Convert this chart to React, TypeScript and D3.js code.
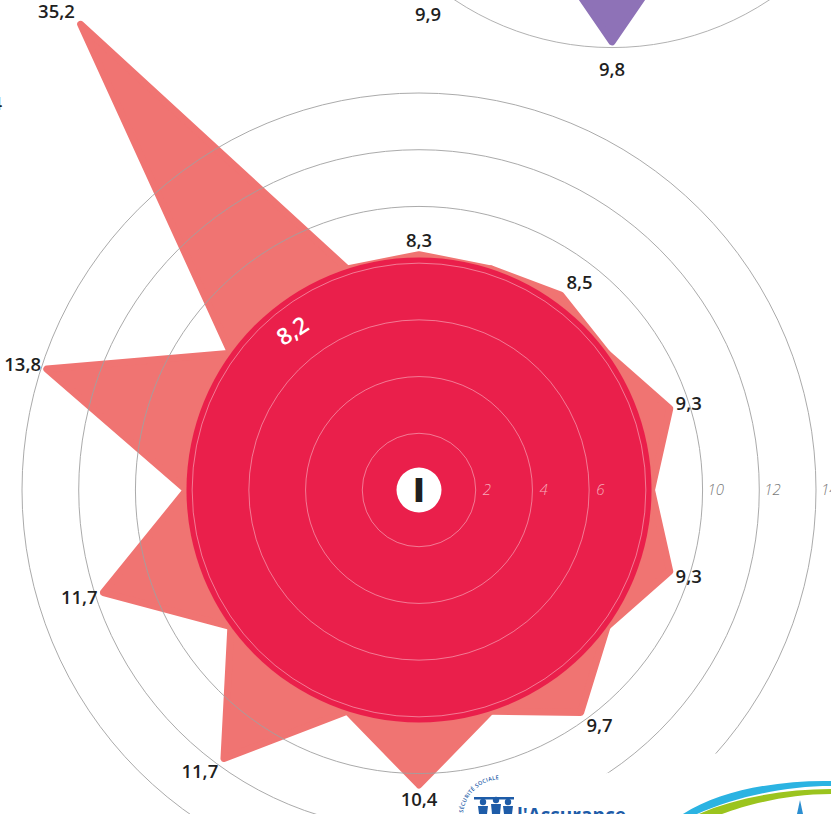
import React from "react";
import * as d3 from "d3";

// ---- data ----
const mainValues = [8.3, 8.5, 9.3, 9.3, 9.7, 10.4, 11.7, 11.7, 13.8, 35.2];
const mainAverage = 8.2;
const mainRoman = "I";
const gridTicks = [2, 4, 6, 8, 10, 12, 14];
const tickLabels = ["2", "4", "6", "", "10", "12", "14"];
// upper (cut-off) chart: only spikes at positions 4, 5, 6 are in view
const topIndices = [4, 5, 6];
const topValues = [8.9, 9.8, 9.9];
const topAverage = 7.0;
const topGrid = [10];
// labels of a chart to the left, cut off by the page edge
const leftLabels = ["9,4", "9,1"];

const W = 831;
const H = 814;
const N = 10;
const DISPLAY_CAP = 20.3;

const frFormat = d3.formatLocale({
  decimal: ",",
  thousands: " ",
  grouping: [3],
  currency: ["", " €"],
}).format(".1f");

const rScale = d3.scaleLinear().domain([0, 14]).range([0, 397]);
const FONT = "'Open Sans', 'Noto Sans', sans-serif";
const LABEL_SIZE = 18.5;

function spikePath(i: number, value: number, inner: number) {
  const step = (2 * Math.PI) / N;
  const a = i * step;
  const pts: [number, number][] = [
    d3.pointRadial(a - step / 2, rScale(inner)) as [number, number],
    d3.pointRadial(a, rScale(Math.min(value, DISPLAY_CAP))) as [number, number],
    d3.pointRadial(a + step / 2, rScale(inner)) as [number, number],
  ];
  return d3.line().curve(d3.curveLinearClosed)(pts) as string;
}

function labelPos(i: number, value: number, text: string, extra: number) {
  const a = (i * 2 * Math.PI) / N;
  const [px, py] = d3.pointRadial(a, rScale(Math.min(value, DISPLAY_CAP))) as [number, number];
  const s = Math.sin(a);
  const c = Math.cos(a);
  const hw = (text.replace(",", "").length * 10.5 + 4.8) / 2;
  if (Math.abs(s) < 0.2) {
    return [px, py - c * (14 + extra)];
  }
  return [px + Math.sign(s) * (6 + hw), py - c * (16 + extra)];
}

function Spikes({ values, indices, inner, color }: any) {
  return (
    <g>
      {values.map((v: number, k: number) => (
        <path
          key={k}
          d={spikePath(indices[k], v, inner)}
          fill={color}
          stroke={color}
          strokeWidth={7}
          strokeLinejoin="round"
        />
      ))}
    </g>
  );
}

function Labels({ values, indices, extra = 0 }: any) {
  return (
    <g>
      {values.map((v: number, k: number) => {
        const t = frFormat(v);
        const [x, y] = labelPos(indices[k], v, t, extra);
        return (
          <text
            key={k}
            x={x}
            y={y}
            dy="0.36em"
            textAnchor="middle"
            fontFamily={FONT}
            fontWeight={600}
            fontSize={LABEL_SIZE}
            fill="#1f1f1f"
          >
            {t}
          </text>
        );
      })}
    </g>
  );
}

export default function App() {
  const cx = 419;
  const cy = 490;
  const tx = 612;
  const ty = -236;
  const mainIdx = mainValues.map((_, i) => i);
  const avgR = rScale(mainAverage);
  const avgLabel = d3.pointRadial((321.5 * Math.PI) / 180, avgR - 29) as [number, number];

  return (
    <div style={{ position: "absolute", left: 0, top: 0, width: W, height: H, background: "#fff" }}>
      <svg width={W} height={H} style={{ display: "block" }}>
        <defs>
          <clipPath id="outerClip">
            <polygon points={`0,0 ${W},0 ${W},733 440,803 440,${H} 0,${H}`} />
          </clipPath>
          <path id="secuArc" d="M 463 813 A 38 38 0 0 1 512 781" />
        </defs>

        {/* upper cut-off chart */}
        <g transform={`translate(${tx},${ty})`}>
          <Spikes values={topValues} indices={topIndices} inner={topAverage} color="#8E72B7" />
          <circle r={rScale(topAverage)} fill="#8E72B7" />
          {topGrid.map((t) => (
            <circle key={t} r={rScale(t)} fill="none" stroke="#a8a8a8" strokeWidth={0.9} />
          ))}
          <Labels values={topValues} indices={topIndices} extra={13} />
        </g>

        {/* main chart */}
        <g transform={`translate(${cx},${cy})`}>
          <Spikes values={mainValues} indices={mainIdx} inner={mainAverage} color="#F07472" />
          <g clipPath="url(#outerClip)" transform={`translate(${-cx},${-cy})`}>
            {gridTicks
              .filter((t) => t > mainAverage)
              .map((t) => (
                <circle
                  key={t}
                  cx={cx}
                  cy={cy}
                  r={rScale(t)}
                  fill="none"
                  stroke="#a0a0a0"
                  strokeWidth={0.9}
                />
              ))}
          </g>
          <circle r={avgR} fill="#EA1F4B" />
          {gridTicks
            .filter((t) => t < mainAverage)
            .map((t) => (
              <circle
                key={t}
                r={rScale(t)}
                fill="none"
                stroke="#ffffff"
                strokeOpacity={0.45}
                strokeWidth={0.9}
              />
            ))}
          {gridTicks.map((t, i) =>
            tickLabels[i] ? (
              <text
                key={t}
                x={rScale(t) + (t < mainAverage ? 7 : 5)}
                y={0}
                dy="0.36em"
                fontFamily={FONT}
                fontStyle="italic"
                fontWeight={300}
                fontSize={15}
                fill={t < mainAverage ? "#F6A9B8" : "#7a7a7a"}
              >
                {tickLabels[i]}
              </text>
            ) : null
          )}
          <text
            x={avgLabel[0]}
            y={avgLabel[1]}
            dy="0.36em"
            textAnchor="middle"
            transform={`rotate(-33 ${avgLabel[0]} ${avgLabel[1]})`}
            fontFamily={FONT}
            fontWeight={600}
            fontSize={23}
            fill="#ffffff"
          >
            {frFormat(mainAverage)}
          </text>
          <Labels values={mainValues} indices={mainIdx} />
          <circle r={22.5} fill="#ffffff" />
          <text
            x={0}
            y={0}
            dy="0.36em"
            textAnchor="middle"
            fontFamily={FONT}
            fontWeight={800}
            fontSize={34}
            fill="#1f1f1f"
          >
            {mainRoman}
          </text>
        </g>

        {/* labels of the chart cut off on the left */}
        {leftLabels.map((t, i) => (
          <text
            key={t}
            x={2}
            y={i === 0 ? 110 : 262}
            textAnchor="end"
            fontFamily={FONT}
            fontWeight={600}
            fontSize={LABEL_SIZE}
            fill="#1f1f1f"
          >
            {t}
          </text>
        ))}

        {/* Assurance Maladie logo, cut off by the page bottom */}
        <g fill="#1E5CA8">
          <text fontFamily={FONT} fontSize={5.5} fontWeight={600} letterSpacing={0.3}>
            <textPath href="#secuArc">SÉCURITÉ SOCIALE</textPath>
          </text>
          <rect x={474} y={797} width={40} height={2.5} />
          <circle cx={483} cy={802} r={3.2} />
          <circle cx={496} cy={800} r={3.2} />
          <circle cx={508} cy={802} r={3.2} />
          <path d="M478 806 L488 806 L487 814 L479 814 Z" />
          <path d="M491 804 L501 804 L500 814 L492 814 Z" />
          <path d="M503 806 L513 806 L512 814 L504 814 Z" />
          <text x={517} y={822} fontFamily={FONT} fontWeight={700} fontSize={19}>
            l'Assurance
          </text>
        </g>

        {/* swoosh logo */}
        <path
          d="M683 814 C 720 790 780 780 831 781 L 831 786 C 785 786 735 797 697 814 Z"
          fill="#2BB3E2"
        />
        <path
          d="M699 814 C 735 798 785 789 831 789 L 831 794 C 790 794 748 804 722 814 Z"
          fill="#9BC41E"
        />
        <path d="M800 800 L803 814 L797 814 Z" fill="#2B8ED0" />
      </svg>
    </div>
  );
}
